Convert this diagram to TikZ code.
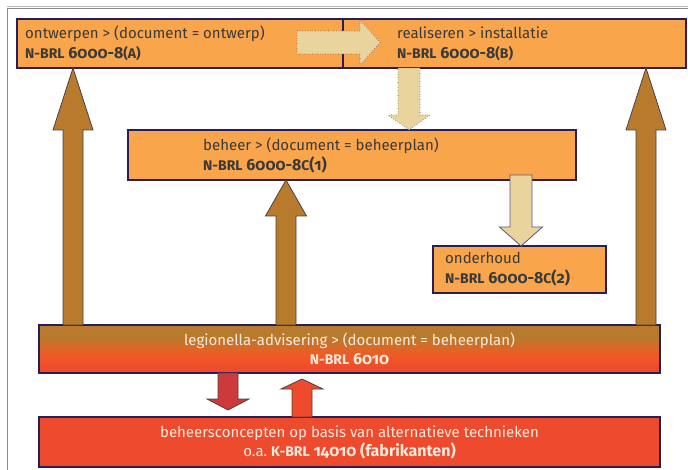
\documentclass[tikz,border=0pt]{standalone}
\usepackage{fontspec}
\setmainfont{Fira Sans}[Numbers=OldStyle]
\usetikzlibrary{calc}

\definecolor{boxorange}{HTML}{F9A54B}
\definecolor{boxline}{HTML}{2B1D55}
\definecolor{txtgray}{HTML}{3A3A3A}
\definecolor{cream}{HTML}{FBEBDD}
\definecolor{tanfill}{HTML}{E8D49C}
\definecolor{tanline}{HTML}{5E5585}
\definecolor{brownfill}{HTML}{B87A2D}
\definecolor{brownline}{HTML}{4A4242}
\definecolor{legbrown}{HTML}{B87B2D}
\definecolor{legorange}{HTML}{F15A24}
\definecolor{legred}{HTML}{EE4A2E}
\definecolor{darkred}{HTML}{CD3A3C}
\definecolor{framegray}{HTML}{8A8A8A}

\pgfdeclareverticalshading{legshade}{100bp}{color(0bp)=(legred); color(25bp)=(legred);
  color(30bp)=(legred); color(44bp)=(legorange); color(62bp)=(legbrown); color(75bp)=(legbrown);
  color(100bp)=(legbrown)}

% code line (bold, larger) and its smaller letters
\newcommand\cd[1]{{\fontsize{16}{20}\selectfont\bfseries #1}}
\newcommand\sm[1]{{\fontsize{14}{15}\selectfont #1}}
% block arrow: style, start, tip, half shaft, half head, head length
\newcommand\blkarrow[6][]{%
  \path ($(#3)!#6pt!(#2)$) coordinate (hb);
  \draw[#1] ($(#2)!#4pt!90:(#3)$) -- ($(hb)!#4pt!90:(#3)$) -- ($(hb)!#5pt!90:(#3)$) -- (#3)
    -- ($(hb)!#5pt!-90:(#3)$) -- ($(hb)!#4pt!-90:(#3)$) -- ($(#2)!#4pt!-90:(#3)$) -- cycle;}

\begin{document}
\begin{tikzpicture}[x=1pt,y=-1pt,
  box/.style={draw=boxline, line width=1.6pt, fill=boxorange, outer sep=0pt, inner sep=0pt, anchor=north west},
  txt/.style={text=txtgray, align=left, inner sep=0pt, anchor=west, font=\fontsize{15}{20}\selectfont},
  wtxt/.style={text=cream, align=center, inner sep=0pt, font=\fontsize{15}{19}\selectfont},
  tanarr/.style={fill=tanfill, draw=tanline, line width=0.6pt, dotted},
  tansolid/.style={fill=tanfill, draw=tanline, line width=0.8pt},
  brownarr/.style={fill=brownfill, draw=brownline, line width=0.8pt},
  redarr/.style={draw=brownline, line width=0.8pt}]
\useasboundingbox (0,0) rectangle (688,470);

% frame
\draw[framegray!60, line width=0.6pt] (7,6.5) -- (688,6.5);
\draw[framegray, line width=0.8pt] (7,470) -- (7,8.5) -- (688,8.5);

% boxes
\node[box, minimum width=326pt, minimum height=49pt] (ontw) at (17,19) {};
\node[box, minimum width=343pt, minimum height=49pt] (real) at (343,19) {};
\node[box, minimum width=448pt, minimum height=50pt] (beheer) at (128,130) {};
\node[box, minimum width=173pt, minimum height=47pt] (onderh) at (433,246) {};
\node[box, draw=boxline, shading=legshade, minimum width=621pt, minimum height=48pt] (leg) at (39,325) {};
\node[box, fill=legred, minimum width=621pt, minimum height=50pt] (alt) at (39,417) {};

% texts
\node[txt] (ontwtxt) at ($(ontw.west)+(8,0)$) {ontwerpen > (document = ontwerp)\\\cd{\sm{N-BRL} 6000-8\sm{(A)}}};
\node[txt] (realtxt) at ($(real.west)+(54,0)$) {realiseren > installatie\\\cd{\sm{N-BRL} 6000-8\sm{(B)}}};
\node[txt] (behtxt) at ($(beheer.west)+(75,0)$) {beheer > (document = beheerplan)\\\cd{\sm{N-BRL} 6000-8\sm{C}(1)}};
\node[txt] (ondtxt) at ($(onderh.west)+(12,0)$) {onderhoud\\\cd{\sm{N-BRL} 6000-8\sm{C}(2)}};
\node[wtxt] (legtxt) at (leg) {legionella-advisering > (document = beheerplan)\\\cd{\sm{N-BRL} 6010}};
\node[wtxt] (alttxt) at (alt) {beheersconcepten op basis van alternatieve technieken\\o.a.\ \cd{\sm{K-BRL} 14010 (fabrikanten)}};

% arrow ends
\coordinate (t1) at ($(ontw.east)+(-46,-1)$);
\coordinate (t2) at ($(real.west)+(37,-1)$);
\coordinate (t3) at ($(real.south west)+(66,0)$);
\coordinate (t4) at (t3 |- beheer.north);
\coordinate (t5) at ($(beheer.south west)+(393,-5)$);
\coordinate (t6) at (t5 |- onderh.north);
\coordinate (b1) at ($(leg.north west)+(34,0)$);
\coordinate (b2) at (b1 |- ontw.south);
\coordinate (b3) at ($(leg.north east)+(-14,0)$);
\coordinate (b4) at (b3 |- real.south);
\coordinate (b5) at ($(leg.north west)+(247,0)$);
\coordinate (b6) at (b5 |- beheer.south);
\coordinate (r1) at ($(leg.south west)+(189,0)$);
\coordinate (r2) at ($(r1)+(0,37)$);
\coordinate (r3) at ($(alt.north west)+(263,0)$);
\coordinate (r4) at ($(r3)+(0,-38)$);

% arrows
\blkarrow[tanarr]{t1}{t2}{11.5}{22.5}{20}
\blkarrow[tanarr]{t3}{t4}{11}{21}{15}
\blkarrow[tansolid]{t5}{t6}{11}{21.5}{19}
\blkarrow[brownarr]{b1}{b2}{10}{20}{62}
\blkarrow[brownarr]{b3}{b4}{10}{20}{62}
\blkarrow[brownarr]{b5}{b6}{10}{20.5}{36}
\blkarrow[redarr, fill=darkred]{r1}{r2}{10}{21}{11}
\blkarrow[redarr, fill=legred]{r3}{r4}{10}{21}{10}
\end{tikzpicture}
\end{document}
